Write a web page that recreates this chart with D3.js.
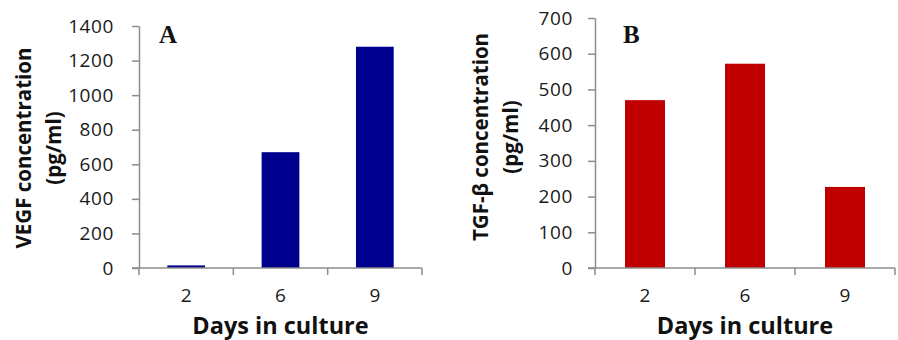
<!DOCTYPE html>
<html><head><meta charset="utf-8">
<script src="https://cdn.jsdelivr.net/npm/d3@7"></script>
<style>body{margin:0;background:#fff}svg{display:block}</style>
</head><body>
<svg id="c" width="898" height="340"></svg>
<script>
const days = ["2","6","9"];
const vegf = [15, 670, 1280];
const tgf = [470, 572, 227];
const vegfTicks = [0,200,400,600,800,1000,1200,1400];
const tgfTicks = [0,100,200,300,400,500,600,700];

const svg = d3.select("#c");
const numFont = "'Open Sans', sans-serif";
const titleFont = "'Open Sans', sans-serif";

function panel(o){
  const g = svg.append("g");
  const x = d3.scaleBand().domain(days).range([o.x0, o.x1]).paddingInner(0.6).paddingOuter(0.3);
  const y = d3.scaleLinear().domain([0, o.max]).range([o.y0, o.y1]);
  g.selectAll("rect").data(o.values).enter().append("rect")
    .attr("x",(d,i)=>x(days[i])).attr("width",x.bandwidth())
    .attr("y",d=>y(d)).attr("height",d=>y(0)-y(d))
    .attr("fill",o.color);
  const ya = g.append("g").attr("transform",`translate(${o.x0},0)`)
    .call(d3.axisLeft(y).tickValues(o.ticks).tickFormat(d3.format("d")).tickSize(7).tickPadding(o.pad).tickSizeOuter(0));
  ya.attr("font-size",null).attr("font-family",null);
  ya.select(".domain").attr("stroke","#8c8c8c").attr("stroke-width",1.5);
  ya.selectAll(".tick line").attr("stroke","#8c8c8c").attr("stroke-width",1.5);
  ya.selectAll("text").style("font-family",numFont).style("font-size","19px").style("font-weight","500")
    .style("letter-spacing","0.6px").attr("fill","#1a1a1a");
  g.append("line").attr("x1",o.x0-7).attr("x2",o.x1).attr("y1",y(0)).attr("y2",y(0))
    .attr("stroke","#8c8c8c").attr("stroke-width",1.5);
  const bounds = d3.range(days.length+1).map(i=>o.x0 + (o.x1-o.x0)*i/days.length);
  g.selectAll(".xt").data(bounds).enter().append("line")
    .attr("x1",d=>d).attr("x2",d=>d).attr("y1",y(0)).attr("y2",y(0)+7)
    .attr("stroke","#8c8c8c").attr("stroke-width",1.5);
  g.selectAll(".xl").data(days).enter().append("text")
    .attr("x",d=>x(d)+x.bandwidth()/2).attr("y",y(0)+34)
    .attr("text-anchor","middle").style("font-family",numFont).style("font-size","19px").style("font-weight","500")
    .attr("fill","#1a1a1a").text(d=>d);
  g.append("text").attr("x",(o.x0+o.x1)/2).attr("y",334)
    .attr("text-anchor","middle").style("font-family",titleFont).attr("font-weight","bold")
    .style("font-size","23.5px").attr("fill","#111").text("Days in culture");
  o.ytitle.forEach((t,i)=>{
    g.append("text").attr("transform",`translate(${o.tx[i]},${o.ty}) rotate(-90)`)
      .attr("text-anchor","middle").attr("dominant-baseline","central")
      .style("font-family",titleFont).attr("font-weight","bold").style("font-size","20.5px")
      .attr("fill","#111").text(t);
  });
  g.append("text").attr("x",o.lx).attr("y",43).style("font-family","'Liberation Serif', 'Times New Roman', serif")
    .attr("font-weight","bold").style("font-size","25px").attr("fill","#111").text(o.label);
}

panel({x0:139, x1:422, y0:268, y1:26, max:1400, values:vegf, ticks:vegfTicks, color:"#00008f", pad:18,
  ytitle:["VEGF concentration","(pg/ml)"], tx:[23,53], ty:148, label:"A", lx:159});
panel({x0:595, x1:895, y0:268, y1:18, max:700, values:tgf, ticks:tgfTicks, color:"#c00000", pad:15,
  ytitle:["TGF-β concentration","(pg/ml)"], tx:[480,510], ty:137, label:"B", lx:623});
</script>
</body></html>
